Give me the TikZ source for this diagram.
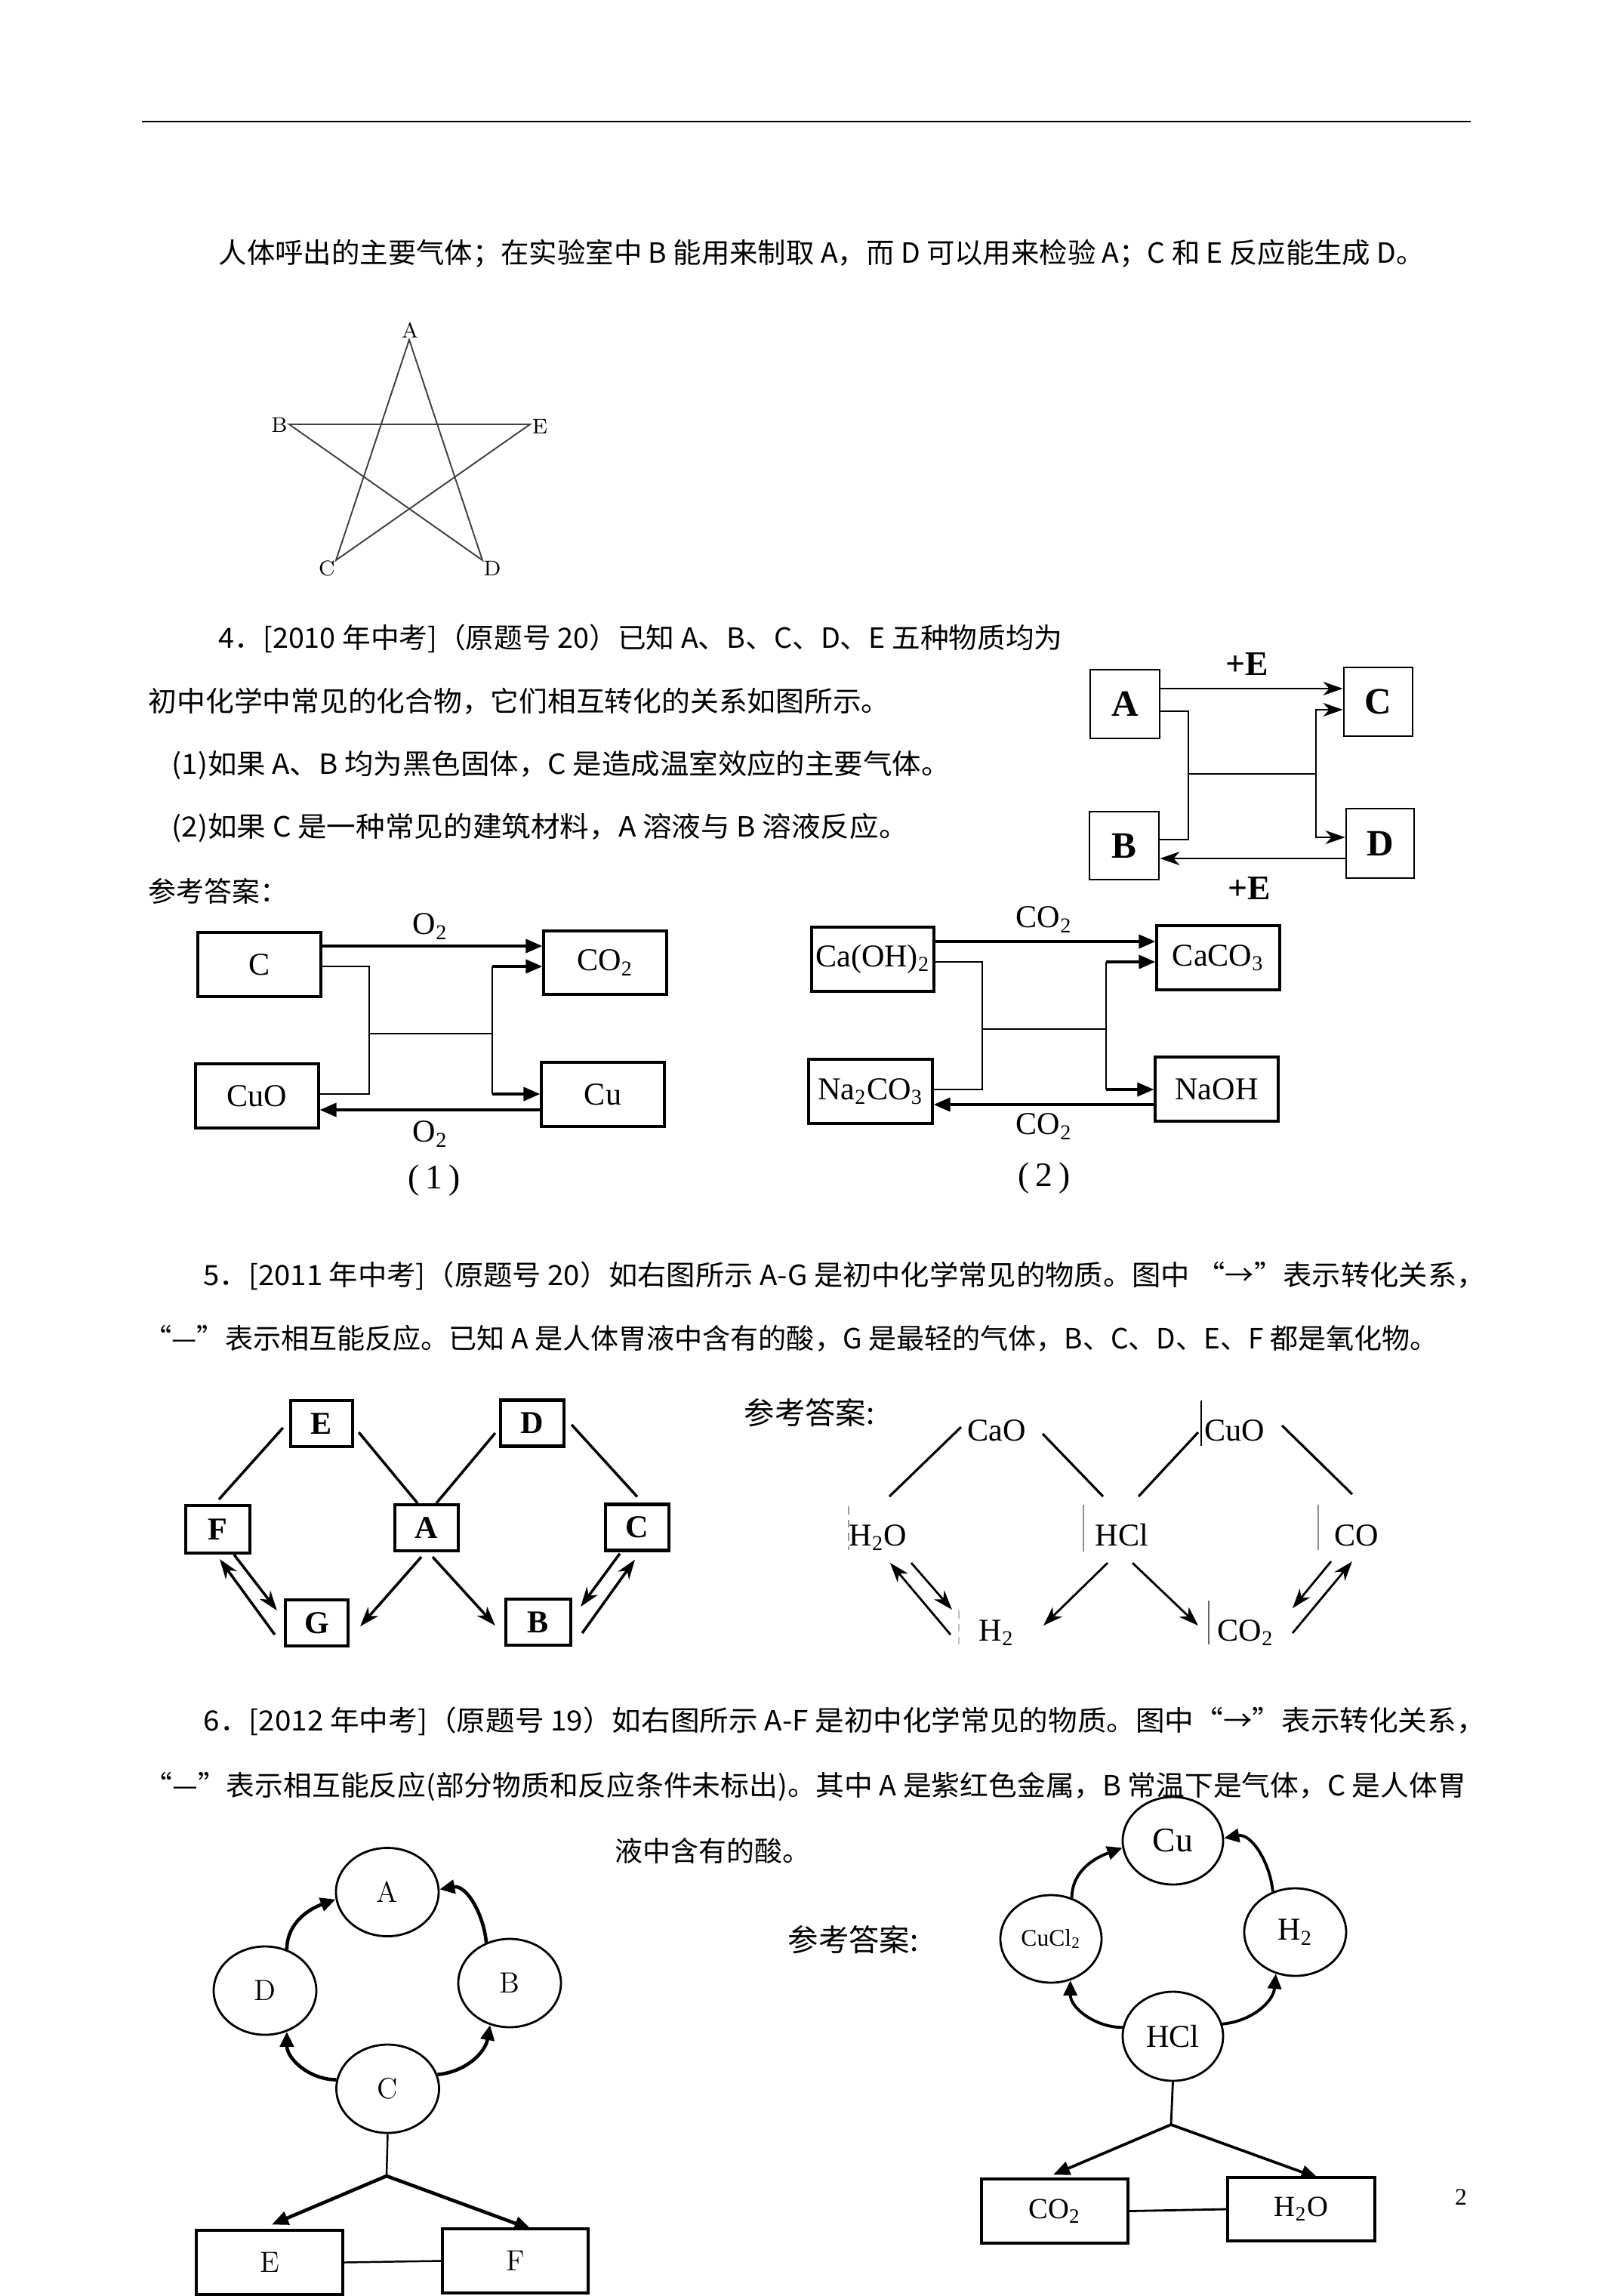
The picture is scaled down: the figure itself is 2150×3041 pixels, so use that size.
\documentclass[tikz,border=0pt]{standalone}
\usepackage{fontspec}
\usepackage{graphicx}
\usetikzlibrary{shapes.geometric,arrows.meta,calc}
\newfontfamily\cjk{Noto Sans CJK SC}
\newfontfamily\tnr{Liberation Serif}
\newcommand\fitline[2]{\resizebox{#1mm}{\height}{#2}}
\newcommand\sbs[1]{\textsubscript{#1}}
\begin{document}
\begin{tikzpicture}[x=0.1mm,y=-0.1mm,
  txt/.style={anchor=west,inner sep=0pt,font=\cjk\fontsize{10.5pt}{12pt}\selectfont},
  ans/.style={anchor=west,inner sep=0pt,font=\cjk\fontsize{11.5pt}{13pt}\selectfont},
  lbl/.style={inner sep=0pt,font=\tnr\fontsize{12pt}{14pt}\selectfont},
  qbox/.style={draw,line width=0.8pt,inner sep=0pt,minimum width=9.1mm,minimum height=9.1mm,font=\tnr\bfseries\fontsize{14pt}{16pt}\selectfont},
  abox/.style={draw,line width=0.9pt,inner sep=0pt,minimum width=16.3mm,minimum height=8.5mm,font=\tnr\fontsize{12pt}{14pt}\selectfont},
  sbox/.style={draw,line width=1.2pt,inner sep=0pt,minimum width=8.4mm,minimum height=6.1mm,font=\tnr\bfseries\fontsize{12pt}{14pt}\selectfont},
  ell/.style={ellipse,draw,line width=0.8pt,inner sep=0pt,minimum width=13.6mm,minimum height=11.7mm},
  rbox/.style={draw,line width=0.9pt,inner sep=0pt,minimum width=19.4mm,minimum height=8.5mm},
  con/.style={line width=0.8pt},
  tri/.style={-{Triangle[length=2.2mm,width=1.8mm]},line width=1.05pt},
  barb/.style={-{Stealth[length=2.6mm,width=1.8mm,inset=0.8mm]},line width=0.8pt},
  curv/.style={-{Triangle[length=2mm,width=1.8mm]},line width=1.3pt},
  lm/.style={font=\fontsize{11pt}{13pt}\selectfont}
]
\useasboundingbox (0,0) rectangle (2150,3041);
\fill[white] (0,0) rectangle (2150,3041);

% top rule
\draw[line width=0.6pt] (188,161) -- (1948,161);

% first line
\node[txt] (t1) at (289,336) {\fitline{159.7}{人体呼出的主要气体；在实验室中 B 能用来制取 A，而 D 可以用来检验 A；C 和 E 反应能生成 D。}};

% star
\coordinate (sA) at (542,450);
\coordinate (sB) at (383,562);
\coordinate (sE) at (702,562);
\coordinate (sC) at (445,742);
\coordinate (sD) at (639,742);
\draw[black!75,line width=0.55pt,line join=miter] (sA) -- (sC) -- (sE) -- (sB) -- (sD) -- cycle;
\begin{scope}[every node/.style={inner sep=0pt,font=\fontsize{8pt}{9pt}\selectfont}]
\node (lA) at (543,437) {A};
\node (lB) at (370,563) {B};
\node (lE) at (715,565) {E};
\node (lC) at (433,753) {C};
\node (lD) at (652,753) {D};
\end{scope}

% question 4 text
\node[txt] (t4a) at (289,846) {\fitline{111.8}{4．[2010 年中考]（原题号 20）已知 A、B、C、D、E 五种物质均为}};
\node[txt] (t4b) at (196,929) {\fitline{98.2}{初中化学中常见的化合物，它们相互转化的关系如图所示。}};
\node[txt] (t4c) at (227,1013) {\fitline{103.1}{(1)如果 A、B 均为黑色固体，C 是造成温室效应的主要气体。}};
\node[txt] (t4d) at (227,1096) {\fitline{97.5}{(2)如果 C 是一种常见的建筑材料，A 溶液与 B 溶液反应。}};
\node[txt] (t4e) at (196,1180) {参考答案：};

% question 4 diagram
\node[qbox,minimum width=9.2mm] (qA) at (1490,932.5) {A};
\node[qbox] (qC) at (1825.5,929.5) {C};
\node[qbox,minimum width=9.2mm,minimum height=9.0mm] (qB) at (1489,1120) {B};
\node[qbox,minimum width=9.0mm,minimum height=9.2mm] (qD) at (1828,1117) {D};
\coordinate (qJ1) at (1574,1025);
\coordinate (qJ2) at (1743,1025);
\draw[barb] (qA.east |- 0,912) -- (qC.west |- 0,912);
\draw[line width=0.7pt] (qA.east |- 0,942) -| (qJ1) |- (qB.east |- 0,1112);
\draw[line width=0.7pt] (qJ1) -- (qJ2);
\draw[barb] (qJ2) |- (qC.west |- 0,940);
\draw[barb] (qJ2) |- (qD.west |- 0,1109);
\draw[barb] (qD.west |- 0,1137) -- (qB.east |- 0,1137);
\node[inner sep=0pt,font=\tnr\bfseries\fontsize{13pt}{15pt}\selectfont] (qE1) at (1652,880) {+E};
\node[inner sep=0pt,font=\tnr\bfseries\fontsize{13pt}{15pt}\selectfont] (qE2) at (1655,1177) {+E};

% answer (1)
\node[abox] (a1C) at (343.5,1277.5) {C};
\node[abox,minimum height=8.4mm] (a1O) at (801.5,1275) {CO\sbs{2}};
\node[abox] (a1CuO) at (340.5,1451.5) {CuO};
\node[abox] (a1Cu) at (798.5,1449.5) {Cu};
\coordinate (a1J1) at (489,1369);
\coordinate (a1J2) at (652,1369);
\draw[tri] (a1C.east |- 0,1253) -- (a1O.west |- 0,1253);
\draw[con] (a1C.east |- 0,1280) -| (a1J1) |- (a1CuO.east |- 0,1449);
\draw[con] (a1J1) -- (a1J2);
\draw[con] (a1J2 |- 0,1280) -- (a1J2 |- 0,1449);
\draw[tri] (a1J2 |- 0,1280) -- (a1O.west |- 0,1280);
\draw[tri] (a1J2 |- 0,1449) -- (a1Cu.west |- 0,1449);
\draw[tri] (a1Cu.west |- 0,1470) -- (a1CuO.east |- 0,1470);
\node[lbl] (a1L1) at (570,1227) {O\sbs{2}};
\node[lbl] (a1L2) at (570,1502) {O\sbs{2}};
\node[lbl,font=\tnr\fontsize{13pt}{15pt}\selectfont] (a1cap) at (575,1563) {(\,1\,)};

% answer (2)
\node[abox,minimum width=16.2mm] (a2A) at (1156,1270.5) {Ca(OH)\sbs{2}};
\node[abox] (a2C) at (1613.5,1268.5) {CaCO\sbs{3}};
\node[abox,minimum width=16.4mm] (a2B) at (1153,1445.5) {Na\sbs{2}CO\sbs{3}};
\node[abox] (a2D) at (1611.5,1442.5) {NaOH};
\coordinate (a2J1) at (1301,1363);
\coordinate (a2J2) at (1465,1363);
\draw[tri] (a2A.east |- 0,1247) -- (a2C.west |- 0,1247);
\draw[con] (a2A.east |- 0,1274) -| (a2J1) |- (a2B.east |- 0,1443);
\draw[con] (a2J1) -- (a2J2);
\draw[con] (a2J2 |- 0,1274) -- (a2J2 |- 0,1443);
\draw[tri] (a2J2 |- 0,1274) -- (a2C.west |- 0,1274);
\draw[tri] (a2J2 |- 0,1443) -- (a2D.west |- 0,1443);
\draw[tri] (a2D.west |- 0,1463) -- (a2B.east |- 0,1463);
\node[lbl] (a2L1) at (1383,1218) {CO\sbs{2}};
\node[lbl] (a2L2) at (1383,1492) {CO\sbs{2}};
\node[lbl,font=\tnr\fontsize{13pt}{15pt}\selectfont] (a2cap) at (1383,1560) {(\,2\,)};

% question 5 text
\node[txt] (t5a) at (269,1690) {\fitline{169.8}{5．[2011 年中考]（原题号 20）如右图所示 A-G 是初中化学常见的物质。图中 “→”表示转化关系，}};
\node[txt] (t5b) at (190,1773) {\fitline{171.4}{“—”表示相互能反应。已知 A 是人体胃液中含有的酸，G 是最轻的气体，B、C、D、E、F 都是氧化物。}};

% question 5 diagram
\node[sbox,minimum width=8.2mm] (fE) at (426,1885.5) {E};
\node[sbox] (fD) at (705,1885) {D};
\node[sbox,minimum width=8.5mm,minimum height=6.3mm] (fF) at (288.5,2025.5) {F};
\node[sbox] (fA) at (565,2023.5) {A};
\node[sbox] (fC) at (844,2023) {C};
\node[sbox,minimum width=8.3mm] (fG) at (419.5,2149.5) {G};
\node[sbox,minimum width=8.6mm] (fB) at (713,2148.5) {B};
\begin{scope}[line width=1pt]
\draw ($(fE.west)+(-8,5.5)$) -- ($(fF.north)+(1.5,-6)$);
\draw ($(fE.east)+(6,11.5)$) -- ($(fA.north)+(-12,0)$);
\draw ($(fD.west)+(-5,13)$) -- ($(fA.north)+(13,0)$);
\draw ($(fD.east)+(8,2)$) -- ($(fC.north)+(0,-8)$);
\end{scope}
\begin{scope}[barb/.append style={line width=1pt}]
\draw[barb] ($(fF.south)+(21.5,0)$) -- ($(fG.west)+(-9,-16.5)$);
\draw[barb] ($(fG.west)+(-12,15.5)$) -- ($(fF.south)+(2.5,6)$);
\draw[barb] ($(fA.south)+(-7,6)$) -- ($(fG.east)+(14,4.5)$);
\draw[barb] ($(fA.south)+(8,6)$) -- ($(fB.west)+(-12,4.5)$);
\draw[barb] ($(fC.south)+(-23,2)$) -- ($(fB.east)+(11,-20.5)$);
\draw[barb] ($(fB.east)+(13,14.5)$) -- ($(fC.south)+(-3,10)$);
\end{scope}

% answer 5
\node[ans] (t5c) at (985,1871) {参考答案:};
\node[lbl,anchor=base] (gCaO) at (1320,1908) {CaO};
\node[lbl,anchor=base] (gCuO) at (1635,1908) {CuO};
\node[lbl,anchor=base] (gH2O) at (1163,2047) {H\sbs{2}O};
\node[lbl,anchor=base] (gHCl) at (1486,2047) {HCl};
\node[lbl,anchor=base] (gCO) at (1797,2047) {CO};
\node[lbl,anchor=base] (gH2) at (1320,2173) {H\sbs{2}};
\node[lbl,anchor=base] (gCO2) at (1650,2173) {CO\sbs{2}};
\draw[line width=0.4pt] (1591,1855) -- (1591,1915);
\draw[black!45,line width=0.4pt] (1435,1993) -- (1435,2055);
\draw[black!45,line width=0.4pt] (1746,1993) -- (1746,2053);
\draw[black!60,line width=0.4pt] (1601,2120) -- (1601,2178);
\draw[black!40,line width=0.4pt,densely dashed] (1124,1995) -- (1124,2053);
\draw[black!25,line width=0.4pt,densely dashed] (1270,2133) -- (1270,2178);
\begin{scope}[line width=0.9pt]
\draw ($(gH2O.base)+(15,-65)$) -- ($(gCaO.base)+(-47,-18)$);
\draw ($(gCaO.base)+(61,-9)$) -- ($(gHCl.base)+(-25,-65)$);
\draw ($(gHCl.base)+(22,-65)$) -- ($(gCuO.base)+(-48,-11)$);
\draw ($(gCuO.base)+(63,-20)$) -- ($(gCO.base)+(-6,-68)$);
\draw[barb] ($(gH2O.base)+(44,23)$) -- ($(gH2.base)+(-59,-41)$);
\draw[barb] ($(gH2.base)+(-61,-8)$) -- ($(gH2O.base)+(16,23)$);
\draw[barb] ($(gHCl.base)+(-19,23)$) -- ($(gH2.base)+(62,-20)$);
\draw[barb] ($(gHCl.base)+(14,23)$) -- ($(gCO2.base)+(-63,-20)$);
\draw[barb] ($(gCO.base)+(-34,21)$) -- ($(gCO2.base)+(62,-43)$);
\draw[barb] ($(gCO2.base)+(62,-10)$) -- ($(gCO.base)+(-6,21)$);
\end{scope}

% question 6 text
\node[txt] (t6a) at (269,2280) {\fitline{169.8}{6．[2012 年中考]（原题号 19）如右图所示 A-F 是初中化学常见的物质。图中“→”表示转化关系，}};
\node[txt] (t6b) at (190,2366) {\fitline{175.1}{“—”表示相互能反应(部分物质和反应条件未标出)。其中 A 是紫红色金属，B 常温下是气体，C 是人体胃}};
\node[txt] (t6c) at (814,2451) {液中含有的酸。};

% question 6 diagram
\node[ell,lm] (hA) at (513,2506) {A};
\node[ell,lm] (hD) at (351,2636.5) {D};
\node[ell,lm] (hB) at (675,2626.5) {B};
\node[ell,lm] (hC) at (513.5,2766.5) {C};
\node[rbox,lm] (hE) at (357,2996.5) {E};
\node[rbox,lm,minimum width=19.3mm] (hF) at (682.5,2994.5) {F};
\coordinate (hJ) at (512,2882);
\draw[line width=0.7pt] (hC.south) -- (hJ);
\draw[tri,line width=1.3pt] (hJ) -- ($(hE.north)+(3,-6)$);
\draw[tri,line width=1.3pt] (hJ) -- ($(hF.north)+(21,2)$);
\draw[line width=0.7pt] (hE.east) -- (hF.west);
\draw[curv] (hD.62) to[out=90,in=200] (hA.188);
\draw[curv] (hB.120) to[out=95,in=10] (hA.3);
\draw[curv] (hC.170) to[out=180,in=-90] (hD.298);
\draw[curv] (hC.16) to[out=5,in=-100] (hB.245);

% answer 6
\node[ans] (t6d) at (1043,2569) {参考答案:};
\node[ell,minimum width=13.3mm,minimum height=11.6mm,font=\tnr\fontsize{13pt}{15pt}\selectfont] (kCu) at (1553.5,2438) {Cu};
\node[ell,minimum width=13.4mm,minimum height=11.6mm,font=\tnr\fontsize{9pt}{11pt}\selectfont] (kCuCl) at (1392,2568) {CuCl\sbs{2}};
\node[ell,minimum width=13.5mm,minimum height=11.6mm,font=\tnr\fontsize{12pt}{14pt}\selectfont] (kH2) at (1715.5,2559) {H\sbs{2}};
\node[ell,minimum width=13.3mm,minimum height=11.8mm,font=\tnr\fontsize{12pt}{14pt}\selectfont] (kHCl) at (1553.5,2697) {HCl};
\node[rbox,font=\tnr\fontsize{11pt}{13pt}\selectfont] (kCO2) at (1397,2928.5) {CO\sbs{2}};
\node[rbox,minimum width=19.5mm,minimum height=8.4mm,font=\tnr\fontsize{11pt}{13pt}\selectfont] (kH2O) at (1723.5,2926) {H\sbs{2}O};
\coordinate (kJ) at (1551,2814);
\draw[line width=0.8pt] (kHCl.south) -- (kJ);
\draw[tri] (kJ) -- ($(kCO2.north)+(-2,-4)$);
\draw[tri] (kJ) -- ($(kH2O.north)+(22,2)$);
\draw[line width=0.8pt] (kCO2.east) -- (kH2O.west);
\draw[curv,line width=1.1pt] (kCuCl.63) to[out=90,in=200] (kCu.188);
\draw[curv,line width=1.1pt] (kH2.119) to[out=95,in=10] (kCu.3);
\draw[curv,line width=1.1pt] (kHCl.170) to[out=180,in=-90] (kCuCl.295);
\draw[curv,line width=1.1pt] (kHCl.14) to[out=5,in=-95] (kH2.245);

% page number
\node[inner sep=0pt,font=\tnr\fontsize{9pt}{10pt}\selectfont] (pg) at (1935,2910) {2};
\end{tikzpicture}
\end{document}
